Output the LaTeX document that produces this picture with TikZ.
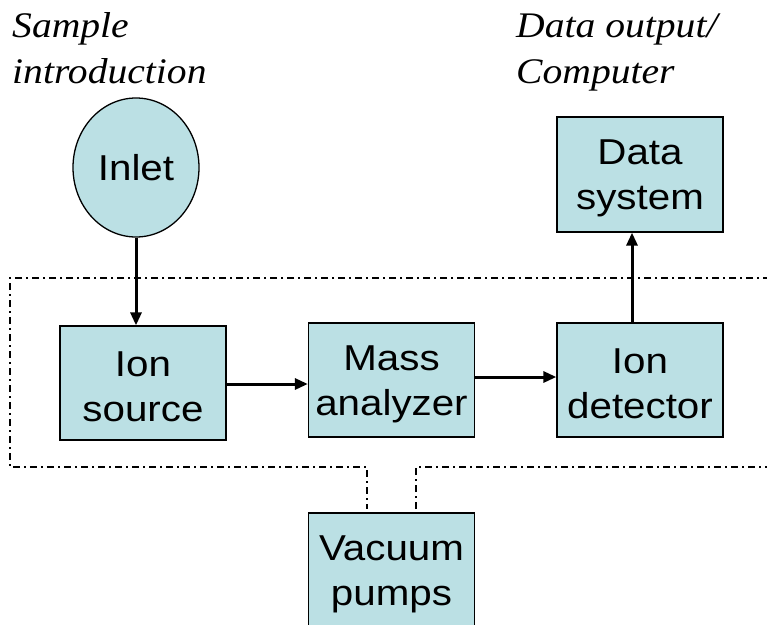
\documentclass[tikz,border=0pt]{standalone}
\usepackage{fontspec}
\usepackage{graphicx}
\setmainfont{Liberation Sans}
\newfontfamily\labfont{Liberation Serif}
\usetikzlibrary{arrows.meta,shapes.geometric}
\definecolor{boxfill}{RGB}{187,224,228}
\newcommand\wl[1]{\scalebox{1.12}[1]{#1}}
\newcommand\wf[1]{\rule{0pt}{33pt}\scalebox{1.12}[1]{#1}}
\newcommand\wi[1]{\scalebox{1.1}[1]{#1}}
\tikzset{
  unitbox/.style={draw=black, line width=1.3pt, fill=boxfill, minimum width=166pt, minimum height=114pt,
    inner sep=0pt, align=center, font=\fontsize{36}{45}\selectfont},
  inletshape/.style={ellipse, draw=black, line width=1.3pt, fill=boxfill, minimum width=126pt, minimum height=139pt,
    inner sep=0pt, font=\fontsize{36}{45}\selectfont},
  flow/.style={line width=3pt, -{Triangle[length=13pt,width=11pt]}},
  vac/.style={line width=1.3pt, dash pattern=on 7pt off 4pt on 2pt off 4pt},
  lab/.style={inner sep=0pt, align=left, font=\labfont\itshape\fontsize{36}{46}\selectfont}
}
\begin{document}
\begin{tikzpicture}[x=1pt,y=-1pt]
\useasboundingbox (0,0) rectangle (767,624);
\clip (0,0) rectangle (767,624);

% vacuum enclosure
\draw[vac] (770,278) -- (10,278) -- (10,467) -- (367,467) -- (367,509);
\draw[vac] (416,509) -- (416,467) -- (770,467);

\node[inletshape] (inlet) at (136,167.5) {\wl{Inlet}};
\node[unitbox] (src) at (143,383) {\wf{Ion}\\\wl{source}};
\node[unitbox] (mass) at (391.5,380) {\wf{Mass}\\\wl{analyzer}};
\node[unitbox] (det) at (640,380) {\wf{Ion}\\\wl{detector}};
\node[unitbox, minimum height=115pt] (data) at (640,174.5) {\wf{Data}\\\wl{system}};
\node[unitbox] (pump) at (391.5,570) {\wf{Vacuum}\\\wl{pumps}};

\node[lab, anchor=north west] (samp) at (12,12.5) {\wi{Sample}\\\wi{introduction}};
\node[lab, anchor=north west] (dout) at (516,14) {\wi{Data output/}\\\wi{Computer}};

\draw[flow] (inlet.south) -- (inlet.south |- src.north);
\draw[flow] (src.east |- 0,384) -- (mass.west |- 0,384);
\draw[flow] (mass.east |- 0,377) -- (det.west |- 0,377);
\draw[flow] (det.north -| 632,0) -- (data.south -| 632,0);
\end{tikzpicture}
\end{document}
